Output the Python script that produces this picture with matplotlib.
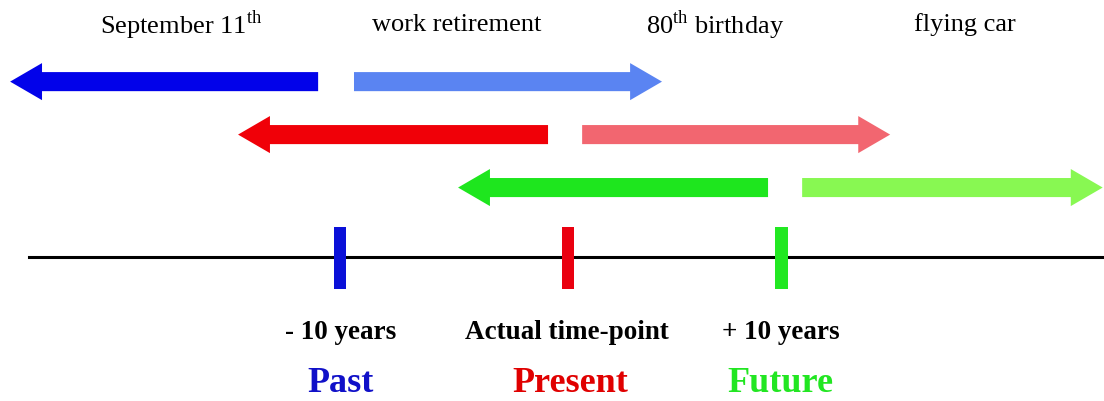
import matplotlib
matplotlib.use("Agg")
import matplotlib.pyplot as plt
from matplotlib.patches import FancyArrow

plt.rcParams['font.family'] = ['Liberation Serif', 'DejaVu Serif']
plt.rcParams['mathtext.fontset'] = 'custom'
plt.rcParams['mathtext.rm'] = 'Liberation Serif'
plt.rcParams['mathtext.bf'] = 'Liberation Serif:bold'

# time axis in years, present = 0
periods = ["Past", "Present", "Future"]
period_labels = ["- 10 years", "Actual time-point", "+ 10 years"]
marker_years = [-10.35, 0.0, 9.7]
row_level = [3.31, 2.31, 1.31]

# arrows (tail, tip) in years
left_tail = [-11.36, -0.91, 9.09]
left_tip = [-25.36, -15.0, -5.0]
right_tail = [-9.73, 0.64, 10.64]
right_tip = [4.27, 14.64, 24.3]

dark_cols = ["#0202ea", "#f00008", "#1ee61e"]
light_cols = ["#5a84f2", "#f26670", "#88f852"]
marker_cols = ["#0a10d8", "#ea0010", "#22e822"]
word_cols = ["#1010c8", "#e00000", "#22e622"]

events = ["September 11$^{\\mathrm{th}}$", "work retirement",
          "80$^{\\mathrm{th}}$ birthday", "flying car"]
event_years = [-17.6, -5.05, 6.7, 18.05]

fig = plt.figure(figsize=(11.04, 4.02), dpi=100)
ax = fig.add_axes([0, 0, 1, 1])
ax.set_xlim(-25.82, 24.36)
ax.set_ylim(-2.72, 4.87)
ax.axis("off")

# time line
ax.plot([-24.5, 24.36], [0, 0], color="black", lw=2.2, zorder=1)

# markers
ax.bar(marker_years, 1.17, width=0.55, bottom=-0.6, color=marker_cols, zorder=2)

shaft = 0.36
head_w = 0.70
head_l = 1.45
for i in range(3):
    y = row_level[i]
    ax.add_patch(FancyArrow(left_tail[i], y, left_tip[i] - left_tail[i], 0,
                            width=shaft, head_width=head_w, head_length=head_l,
                            length_includes_head=True, color=dark_cols[i], lw=0))
    ax.add_patch(FancyArrow(right_tail[i], y, right_tip[i] - right_tail[i], 0,
                            width=shaft, head_width=head_w, head_length=head_l,
                            length_includes_head=True, color=light_cols[i], lw=0))

for i in range(len(events)):
    ax.text(event_years[i], 4.40, events[i], ha="center", va="center", fontsize=19)

label_x = [-10.35, -0.05, 9.65]
word_x = [-10.35, 0.1, 9.65]
for i in range(3):
    ax.text(label_x[i], -1.40, period_labels[i], ha="center", va="center",
            fontsize=19.5, fontweight="bold")
    ax.text(word_x[i], -2.37, periods[i], ha="center", va="center",
            fontsize=26, fontweight="bold", color=word_cols[i])

fig.savefig("out.png", dpi=100)
